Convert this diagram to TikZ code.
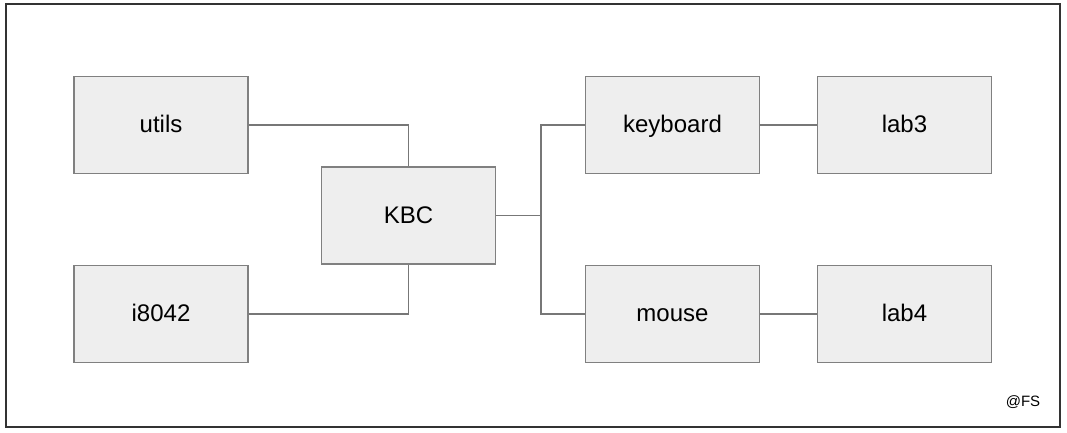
\documentclass[tikz,border=0pt]{standalone}
\usepackage{fontspec}
\setmainfont{Liberation Sans}
\definecolor{boxfill}{HTML}{EEEEEE}
\definecolor{boxline}{HTML}{808080}
\definecolor{wire}{HTML}{777777}
\definecolor{frame}{HTML}{333333}
\begin{document}
\begin{tikzpicture}[x=1pt,y=-1pt,
  mod/.style={draw=boxline, fill=boxfill, line width=1.5pt, minimum width=174pt, minimum height=97pt, inner sep=0pt, text height=15pt, text depth=0pt, font=\fontsize{24}{28}\selectfont},
  wireline/.style={draw=wire, line width=1.5pt}]
\useasboundingbox (0,0) rectangle (1067,432);
\draw[frame, line width=2pt] (6,4) rectangle (1060,427);
\node[mod] (utils) at (161,125) {utils};
\node[mod] (i8042) at (161,314) {i8042};
\node[mod] (kbc) at (408.5,215.5) {KBC};
\node[mod] (keyboard) at (672.5,125) {keyboard};
\node[mod] (mouse) at (672.5,314) {mouse};
\node[mod] (lab3) at (904.5,125) {lab3};
\node[mod] (lab4) at (904.5,314) {lab4};
\coordinate (split) at (541,215.5);
\draw[wireline] (utils.east) -| (kbc.north);
\draw[wireline] (i8042.east) -| (kbc.south);
\draw[wireline] (kbc.east) -- (split);
\draw[wireline] (split) |- (keyboard.west);
\draw[wireline] (split) |- (mouse.west);
\draw[wireline] (keyboard) -- (lab3);
\draw[wireline] (mouse) -- (lab4);
\node[font=\fontsize{15}{18}\selectfont] (fs) at (1023,402) {@FS};
\end{tikzpicture}
\end{document}
